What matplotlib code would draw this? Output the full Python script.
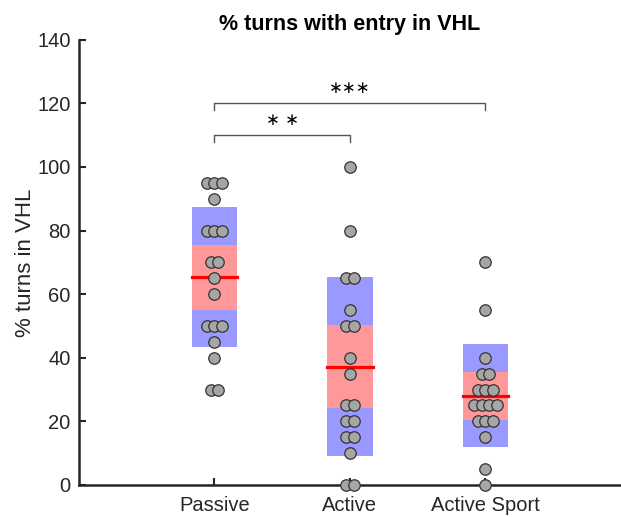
import numpy as np
import matplotlib.pyplot as plt

plt.rcParams['font.family'] = ['Liberation Sans', 'DejaVu Sans']

groups = ['Passive', 'Active', 'Active Sport']
passive = [95, 95, 95, 90, 80, 80, 80, 70, 70, 65, 60, 50, 50, 50, 45, 40, 30, 30]
active = [100, 80, 65, 65, 55, 50, 50, 40, 35, 25, 25, 20, 20, 15, 15, 10, 0, 0]
active_sport = [70, 55, 40, 35, 35, 30, 30, 30, 25, 25, 25, 25, 20, 20, 20, 15, 5, 0]
data = [passive, active, active_sport]

# significance brackets: (group a, group b, height, label)
sig_pairs = [(0, 1, 110, '\u2217 \u2217'), (0, 2, 120, '\u2217\u2217\u2217')]

dark = '#262626'
fig = plt.figure(figsize=(6.21, 5.17), dpi=100)
ax = fig.add_axes([0.127, 0.062, 0.873, 0.861])

half_w = 0.167
for i, vals in enumerate(data):
    x0 = i + 1
    v = np.asarray(vals, dtype=float)
    m = v.mean()
    sd = v.std(ddof=1)
    ci = 1.96 * sd / np.sqrt(len(v))
    # SD band, then 95% CI band, then the mean line
    ax.fill_between([x0 - half_w, x0 + half_w], m - sd, m + sd,
                    color='#9999ff', lw=0, zorder=1)
    ax.fill_between([x0 - half_w, x0 + half_w], m - ci, m + ci,
                    color='#ff9999', lw=0, zorder=2)
    ax.plot([x0 - half_w, x0 + half_w], [m, m], color='red', lw=2.3, zorder=3)

    # spread repeated values side by side
    xs = np.empty(len(v))
    for val in np.unique(v):
        idx = np.where(v == val)[0]
        n = len(idx)
        xs[idx] = x0 + (np.arange(n) - (n - 1) / 2) * 0.055
    ax.scatter(xs, v, s=68, facecolor='#a6a6a6', edgecolor='#333333',
               linewidth=0.9, zorder=4, clip_on=False)

for a, b, h, lab in sig_pairs:
    ax.plot([a + 1, a + 1, b + 1, b + 1], [h - 2, h, h, h - 2],
            color='#555555', lw=1.0, zorder=5)
    ax.text((a + b) / 2 + 1, h + 2.0, lab, ha='center', va='bottom',
            fontsize=12, color='black', family=['DejaVu Sans'])

ax.set_xlim(0, 4)
ax.set_ylim(0, 140)
ax.set_xticks([1, 2, 3])
ax.set_xticklabels(groups)
ax.set_yticks(np.arange(0, 141, 20))
ax.tick_params(direction='in', length=5, width=1.5, colors=dark,
               labelsize=14.5, pad=6)
ax.tick_params(axis='x', pad=8)
ax.spines['top'].set_visible(False)
ax.spines['right'].set_visible(False)
for s in ['left', 'bottom']:
    ax.spines[s].set_linewidth(1.8)
    ax.spines[s].set_color(dark)
ax.set_ylabel('% turns in VHL', fontsize=16, color=dark, labelpad=1)
ax.set_title('% turns with entry in VHL', fontsize=15.5, fontweight='bold',
             pad=7)

fig.savefig('out.png', dpi=100)
